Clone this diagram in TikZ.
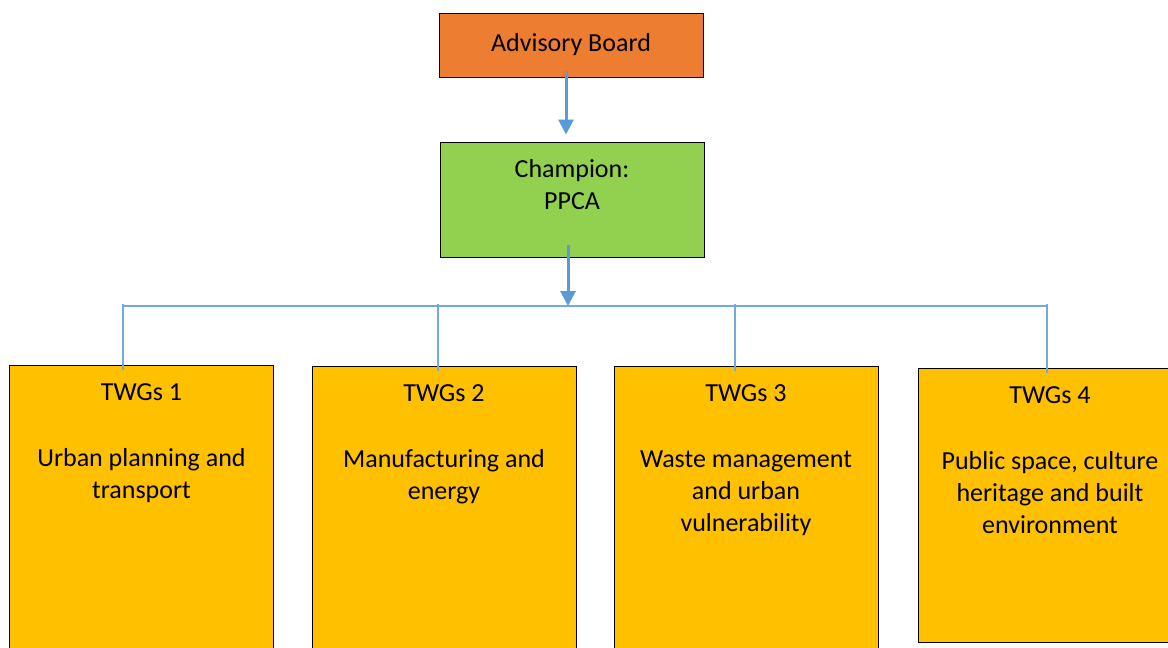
\documentclass[tikz,border=0pt]{standalone}
\usepackage{fontspec}
\setmainfont{Carlito}
\usetikzlibrary{arrows.meta,positioning}
\definecolor{boardorange}{HTML}{ED7D31}
\definecolor{champgreen}{HTML}{92D050}
\definecolor{twggold}{HTML}{FFC000}
\definecolor{linkblue}{HTML}{5B9BD5}
\begin{document}
\begin{tikzpicture}[
		x=1pt, y=-1pt,
		every node/.style={font=\fontsize{26}{32}\selectfont, inner sep=0pt},
		box/.style={draw=black, line width=1pt, minimum width=264pt},
		twg/.style={box, fill=twggold, anchor=north, minimum height=300pt},
		boxtext/.style={align=center, anchor=north},
		mainarrow/.style={draw=linkblue, line width=3pt, -{Triangle[length=15pt,width=15pt]}},
		busline/.style={draw=linkblue!85, line width=1.3pt}
		]
		\clip (0,0) rectangle (1168,648);
		\node[box, fill=boardorange, minimum height=64pt] (board) at (571,45) {Advisory Board};
		\node[box, fill=champgreen, minimum height=115pt] (champ) at (572,199.5) {};
		\node[boxtext] (champtext) at ([yshift=-13.5pt]champ.north) {\strut Champion:\\PPCA};
		\node[twg] (tw1) at (141.5,365) {};
		\node[twg] (tw2) at (444,366) {};
		\node[twg] (tw3) at (746,366) {};
		\node[twg, minimum height=274pt] (tw4) at (1050,368) {};
		\node[boxtext] (tw1text) at ([yshift=-12.5pt]tw1.north) {\strut TWGs 1\\[34pt]Urban planning and\\transport};
		\node[boxtext] (tw2text) at ([yshift=-12.5pt]tw2.north) {\strut TWGs 2\\[34pt]Manufacturing and\\energy};
		\node[boxtext] (tw3text) at ([yshift=-12.5pt]tw3.north) {\strut TWGs 3\\[34pt]Waste management\\and urban\\vulnerability};
		\node[boxtext] (tw4text) at ([yshift=-12.5pt]tw4.north) {\strut TWGs 4\\[34pt]Public space, culture\\heritage and built\\environment};
		\coordinate (bus) at (568,306);
		\coordinate (drop1) at (123,304);
		\coordinate (drop2) at (438,304);
		\coordinate (drop3) at (735,304);
		\coordinate (drop4) at (1047,304);
		\coordinate (boardout) at ([xshift=-5pt,yshift=7pt]board.south);
		\draw[mainarrow] (boardout) -- ([yshift=7pt]champ.north -| boardout);
		\draw[busline] (drop1 |- bus) -- (drop4 |- bus);
		\draw[busline] (drop1) -- ([yshift=-5pt]tw1.north -| drop1);
		\draw[busline] (drop2) -- ([yshift=-5pt]tw2.north -| drop2);
		\draw[busline] (drop3) -- ([yshift=-5pt]tw3.north -| drop3);
		\draw[busline] (drop4) -- ([yshift=-5pt]tw4.north -| drop4);
		\draw[mainarrow] ([yshift=13pt]champ.south -| bus) -- (bus);
	\end{tikzpicture}
\end{document}
